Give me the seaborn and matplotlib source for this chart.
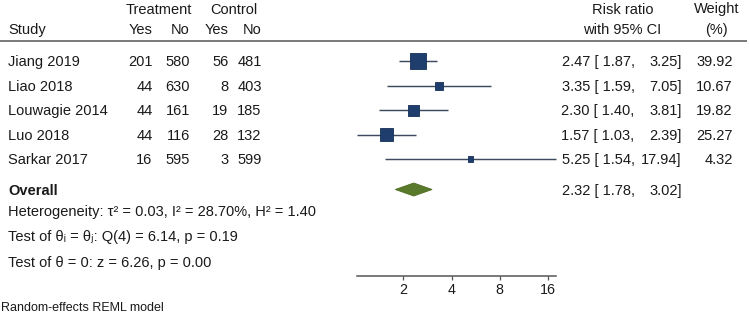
import numpy as np
import pandas as pd
import matplotlib
matplotlib.use("Agg")
import matplotlib.pyplot as plt
import seaborn as sns

# ---------------- data ----------------
studies = ["Jiang 2019", "Liao 2018", "Louwagie 2014", "Luo 2018", "Sarkar 2017"]
treat_yes = [201, 44, 44, 44, 16]
treat_no = [580, 630, 161, 116, 595]
ctrl_yes = [56, 8, 19, 28, 3]
ctrl_no = [481, 403, 185, 132, 599]
rr = [2.47, 3.35, 2.30, 1.57, 5.25]
rr_lo = [1.87, 1.59, 1.40, 1.03, 1.54]
rr_hi = [3.25, 7.05, 3.81, 2.39, 17.94]
weights = [39.92, 10.67, 19.82, 25.27, 4.32]
overall_rr = 2.32
overall_lo = 1.78
overall_hi = 3.02
xticks = [2, 4, 8, 16]
het_line = "Heterogeneity: \u03c4\u00b2 = 0.03, I\u00b2 = 28.70%, H\u00b2 = 1.40"
test1_line = "Test of \u03b8\u1d62 = \u03b8\u2c7c: Q(4) = 6.14, p = 0.19"
test2_line = "Test of \u03b8 = 0: z = 6.26, p = 0.00"
footnote = "Random-effects REML model"

# ---------------- style ----------------
sns.set_theme(style="white")
plt.rcParams["font.family"] = ["Liberation Sans", "DejaVu Sans"]
TXT = "#1a1a1a"
FS = 10.5
W, H = 749, 323
ROW0, ROWH = 61.2, 24.45
CAP = 5.2  # half cap height in px for baseline placement

fig = plt.figure(figsize=(W / 100, H / 100), dpi=100)
tax = fig.add_axes([0, 0, 1, 1])
tax.set_xlim(0, W)
tax.set_ylim(H, 0)
tax.axis("off")

def txt(x, y, s, ha="left", fs=FS, weight="normal", cap=CAP):
    tax.text(x, y + cap, s, ha=ha, va="baseline", fontsize=fs,
             color=TXT, fontweight=weight)

# headers
txt(159, 8.3, "Treatment", ha="center")
txt(234, 8.3, "Control", ha="center")
txt(622.7, 8.3, "Risk ratio", ha="center")
txt(716.7, 8.3, "Weight", ha="center")
txt(8, 28.7, "Study")
for x, s in [(152.5, "Yes"), (190, "No"), (228.3, "Yes"), (261.7, "No")]:
    txt(x, 28.7, s, ha="right")
txt(621.7, 28.7, "with 95% CI", ha="center")
txt(716.7, 28.7, "(%)", ha="center")
tax.plot([0, 747], [40.7, 40.7], color="#555555", lw=1.1, solid_capstyle="butt")

row_y = [ROW0 + i * ROWH for i in range(len(studies))]
for i, y in enumerate(row_y):
    txt(8, y, studies[i])
    txt(152.5, y, str(treat_yes[i]), ha="right")
    txt(190, y, str(treat_no[i]), ha="right")
    txt(228.3, y, str(ctrl_yes[i]), ha="right")
    txt(261.7, y, str(ctrl_no[i]), ha="right")
    txt(634.5, y, f"{rr[i]:.2f} [ {rr_lo[i]:.2f},", ha="right")
    txt(681.7, y, f"{rr_hi[i]:.2f}]", ha="right")
    txt(732.7, y, f"{weights[i]:.2f}", ha="right")

OV_Y = 189.5
txt(8, OV_Y, "Overall", weight="bold")
txt(634.5, OV_Y, f"{overall_rr:.2f} [ {overall_lo:.2f},", ha="right")
txt(681.7, OV_Y, f"{overall_hi:.2f}]", ha="right")
txt(8, 210.5, het_line)
txt(8, 235.8, test1_line)
txt(8, 261.3, test2_line)
txt(1, 306.7, footnote, fs=9.0, cap=4.5)

# ---------------- forest panel ----------------
AX_L, AX_R, AX_B, AX_T = 357.3, 555.9, 276, 41
fax = fig.add_axes([AX_L / W, (H - AX_B) / H, (AX_R - AX_L) / W, (AX_B - AX_T) / H])
fax.patch.set_alpha(0)
fax.set_xscale("log", base=2)
fax.set_xlim(min(rr_lo), max(rr_hi))
fax.set_ylim(AX_B, AX_T)

fax.hlines(row_y, rr_lo, rr_hi, color="#3e4b5e", lw=1.05, clip_on=False, zorder=2)
df = pd.DataFrame({"rr": rr, "y": row_y, "w": weights})
smax = 128.0
sns.scatterplot(data=df, x="rr", y="y", size="w",
                sizes=(smax * min(weights) / max(weights), smax),
                marker="s", color="#1f3d6d", edgecolor="#152f57", linewidth=0.6,
                legend=False, ax=fax, zorder=3, clip_on=False)
dh = 6.5
fax.fill([overall_lo, overall_rr, overall_hi, overall_rr],
         [OV_Y, OV_Y - dh, OV_Y, OV_Y + dh],
         color="#5a7a2b", edgecolor="#4d6b22", lw=0.6, clip_on=False, zorder=3)

for s in ["top", "right", "left"]:
    fax.spines[s].set_visible(False)
fax.spines["bottom"].set_color("#555555")
fax.spines["bottom"].set_linewidth(1.1)
fax.set_xticks(xticks)
fax.set_xticklabels([str(t) for t in xticks])
fax.xaxis.set_minor_locator(matplotlib.ticker.NullLocator())
fax.tick_params(axis="x", which="major", direction="out", length=3, width=0.9,
                color="#555555", labelsize=10.3, labelcolor=TXT, pad=2.2, bottom=True)
fax.set_yticks([])
fax.set_xlabel("")
fax.set_ylabel("")

fig.savefig("out.png", dpi=100)
